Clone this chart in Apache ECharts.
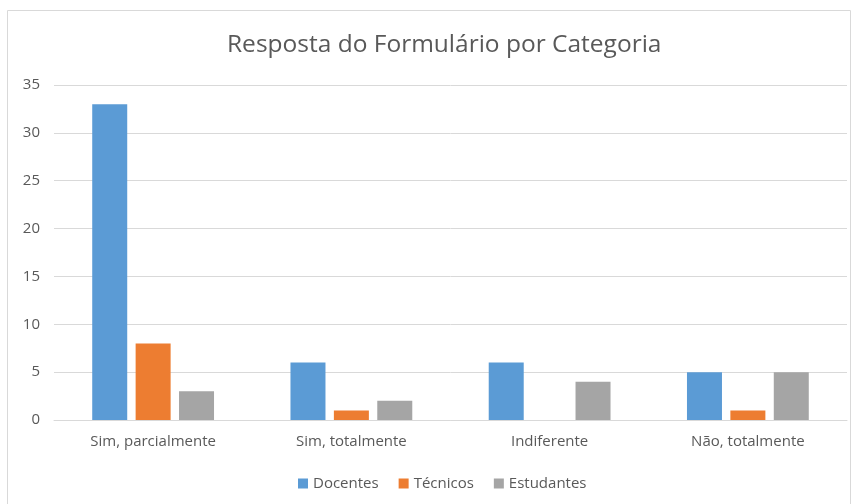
<!DOCTYPE html>
<html>
<head>
<meta charset="utf-8">
<script src="https://cdn.jsdelivr.net/npm/echarts@6/dist/echarts.min.js"></script>
<style>
  html, body { margin: 0; padding: 0; background: #fff; }
  #chart { width: 855px; height: 504px; }
</style>
</head>
<body>
<div id="chart"></div>
<script>
var categorias = ['Sim, parcialmente', 'Sim, totalmente', 'Indiferente', 'Não, totalmente'];
var docentes = [33, 6, 6, 5];
var tecnicos = [8, 1, 0, 1];
var estudantes = [3, 2, 4, 5];

var chart = echarts.init(document.getElementById('chart'));
var fonte = '"Open Sans", sans-serif';

chart.setOption({
	animation: false,
	textStyle: { fontFamily: fonte },
	graphic: [
		{
			type: 'rect',
			shape: { x: 7.5, y: 10.5, width: 843, height: 500 },
			style: { fill: 'none', stroke: '#d9d9d9', lineWidth: 1 },
			silent: true
		}
	],
	title: {
		text: 'Resposta do Formulário por Categoria',
		left: 222,
		top: 28,
		textStyle: { fontFamily: fonte, fontSize: 24.5, fontWeight: 'normal', color: '#595959' }
	},
	legend: {
		bottom: 8,
		left: 293,
		itemWidth: 10,
		itemHeight: 10,
		itemGap: 20,
		icon: 'rect',
		textStyle: { fontFamily: fonte, fontSize: 15, color: '#595959' },
		data: ['Docentes', 'Técnicos', 'Estudantes']
	},
	grid: { left: 54, right: 8, top: 85, bottom: 84 },
	xAxis: {
		type: 'category',
		data: categorias,
		axisLine: { lineStyle: { color: '#d9d9d9' } },
		axisTick: { show: false },
		axisLabel: { fontFamily: fonte, fontSize: 15, color: '#595959', margin: 14 }
	},
	yAxis: {
		type: 'value',
		min: 0,
		max: 35,
		interval: 5,
		axisLine: { show: false },
		axisTick: { show: false },
		axisLabel: { fontFamily: fonte, fontSize: 15, color: '#595959', margin: 14, align: 'right' },
		splitLine: { lineStyle: { color: '#d9d9d9' } }
	},
	series: [
		{
			name: 'Docentes', type: 'bar', data: docentes,
			barWidth: 35, barGap: '24%',
			itemStyle: { color: '#5b9bd5' }
		},
		{
			name: 'Técnicos', type: 'bar', data: tecnicos,
			barWidth: 35, barGap: '24%',
			itemStyle: { color: '#ed7d31' }
		},
		{
			name: 'Estudantes', type: 'bar', data: estudantes,
			barWidth: 35, barGap: '24%',
			itemStyle: { color: '#a5a5a5' }
		}
	]
});
</script>
</body>
</html>
